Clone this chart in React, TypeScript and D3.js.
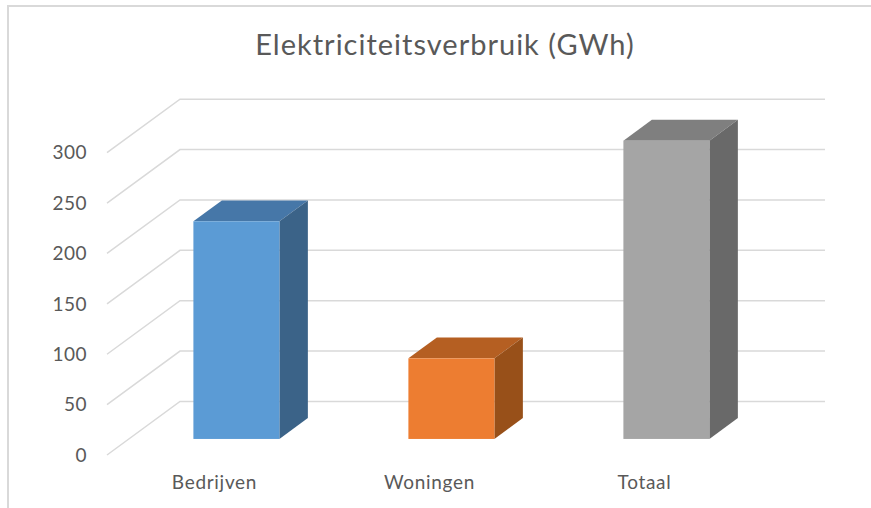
import { useEffect, useRef } from "react";
import * as d3 from "d3";

const categories = ["Bedrijven", "Woningen", "Totaal"];
const values = [216, 80, 296];
const yTicks = [0, 50, 100, 150, 200, 250, 300];

const faceColors = [
  { front: "#5b9bd5", top: "#4677a8", side: "#3b6388" },
  { front: "#ed7d31", top: "#b55f22", side: "#985019" },
  { front: "#a5a5a5", top: "#7f7f7f", side: "#696969" },
];

export default function App() {
  const ref = useRef<SVGSVGElement | null>(null);

  useEffect(() => {
    const svg = d3.select(ref.current);
    svg.selectAll("*").remove();

    const font = "Lato, 'Open Sans', sans-serif";
    const textColor = "#595959";
    const gridColor = "#d9d9d9";

    // depth of the 3D floor (front edge -> back wall)
    const depthX = 73;
    const depthY = -53.5;

    const x = d3.scaleBand().domain(categories).range([107, 752]).paddingInner(0).paddingOuter(0);
    const y = d3.scaleLinear().domain([0, 300]).range([455, 152.7]);

    // chart border
    svg.append("path")
      .attr("d", "M8,600 L8,6 L880,6")
      .attr("fill", "none")
      .attr("stroke", gridColor)
      .attr("stroke-width", 2);

    // title
    svg.append("text")
      .attr("x", 445)
      .attr("y", 55)
      .attr("text-anchor", "middle")
      .style("font-family", font)
      .style("font-size", "29px")
      .style("letter-spacing", "1px")
      .style("fill", textColor)
      .text("Elektriciteitsverbruik (GWh)");

    // gridlines: diagonal on the side wall, horizontal on the back wall
    const backRight = x.range()[1] + depthX;
    svg.append("g")
      .selectAll("path")
      .data(yTicks)
      .enter()
      .append("path")
      .attr("d", d => {
        const y0 = y(d);
        const x0 = x.range()[0];
        return `M${x0},${y0} L${x0 + depthX},${y0 + depthY} L${backRight},${y0 + depthY}`;
      })
      .attr("fill", "none")
      .attr("stroke", gridColor)
      .attr("stroke-width", 1.5);

    // y labels
    svg.append("g")
      .selectAll("text")
      .data(yTicks)
      .enter()
      .append("text")
      .attr("x", 87)
      .attr("y", d => y(d))
      .attr("dy", "0.35em")
      .attr("text-anchor", "end")
      .style("font-family", font)
      .style("font-size", "19px")
      .style("letter-spacing", "0.5px")
      .style("fill", textColor)
      .text(d => d);

    // bars
    const t0 = 0.3;
    const t1 = 0.69;
    const barFrac = 0.4;
    const dx = (t1 - t0) * depthX;
    const dy = (t1 - t0) * depthY;

    const bars = svg.append("g")
      .selectAll("g")
      .data(categories.map((c, i) => ({ c, v: values[i], i })))
      .enter()
      .append("g");

    const geom = (d: { c: string; v: number }) => {
      const bw = x.bandwidth();
      const cx = (x(d.c) as number) + bw / 2 + t0 * depthX;
      const w = bw * barFrac;
      const x0 = cx - w / 2;
      const x1 = cx + w / 2;
      const yb = y(0) + t0 * depthY;
      const yt = y(d.v) + t0 * depthY;
      return { x0, x1, yb, yt };
    };

    bars.append("path")
      .attr("d", d => {
        const g = geom(d);
        return `M${g.x0},${g.yt} L${g.x1},${g.yt} L${g.x1 + dx},${g.yt + dy} L${g.x0 + dx},${g.yt + dy}Z`;
      })
      .attr("fill", d => faceColors[d.i].top);

    bars.append("path")
      .attr("d", d => {
        const g = geom(d);
        return `M${g.x1},${g.yt} L${g.x1 + dx},${g.yt + dy} L${g.x1 + dx},${g.yb + dy} L${g.x1},${g.yb}Z`;
      })
      .attr("fill", d => faceColors[d.i].side);

    bars.append("rect")
      .attr("x", d => geom(d).x0)
      .attr("y", d => geom(d).yt)
      .attr("width", d => geom(d).x1 - geom(d).x0)
      .attr("height", d => geom(d).yb - geom(d).yt)
      .attr("fill", d => faceColors[d.i].front);

    // category labels at the front edge
    svg.append("g")
      .selectAll("text")
      .data(categories)
      .enter()
      .append("text")
      .attr("x", d => (x(d) as number) + x.bandwidth() / 2)
      .attr("y", 489)
      .attr("text-anchor", "middle")
      .style("font-family", font)
      .style("font-size", "19px")
      .style("letter-spacing", "0.7px")
      .style("fill", textColor)
      .text(d => d);
  }, []);

  return (
    <svg
      ref={ref}
      width={871}
      height={508}
      style={{ position: "absolute", left: 0, top: 0, background: "#fff" }}
    />
  );
}
